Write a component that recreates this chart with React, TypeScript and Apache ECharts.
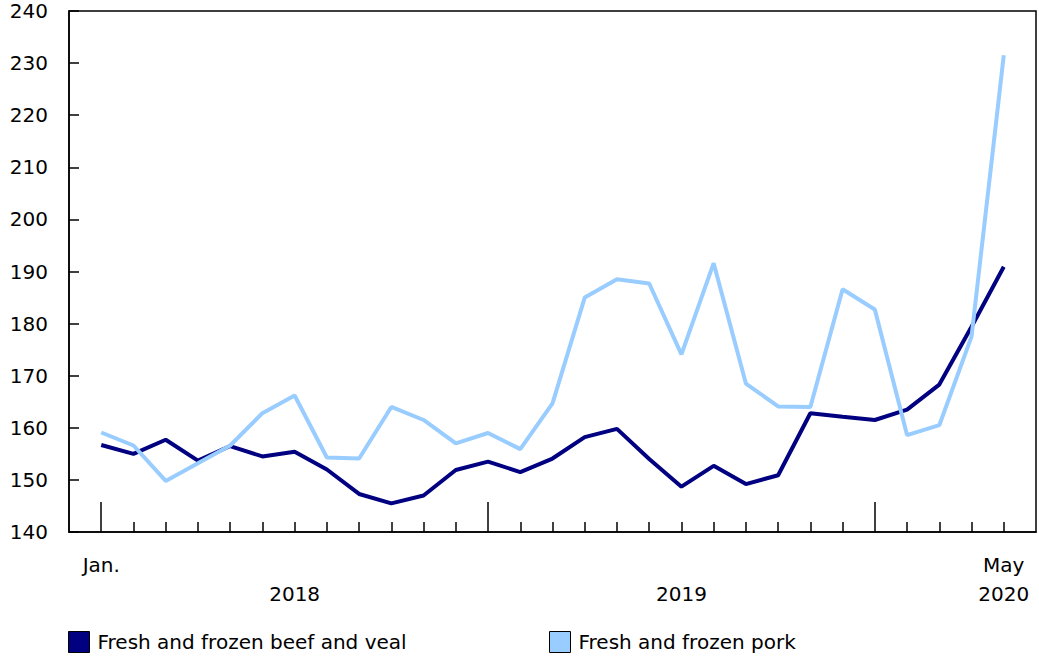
import React, { useEffect, useRef } from "react";
import * as echarts from "echarts";

// Monthly periods, January 2018 to May 2020
const months: string[] = [
  "2018-01", "2018-02", "2018-03", "2018-04", "2018-05", "2018-06", "2018-07", "2018-08", "2018-09", "2018-10", "2018-11", "2018-12",
  "2019-01", "2019-02", "2019-03", "2019-04", "2019-05", "2019-06", "2019-07", "2019-08", "2019-09", "2019-10", "2019-11", "2019-12",
  "2020-01", "2020-02", "2020-03", "2020-04", "2020-05",
];

const beefName = "Fresh and frozen beef and veal";
const porkName = "Fresh and frozen pork";

const beefValues: number[] = [
  156.7, 155.0, 157.7, 153.7, 156.5, 154.5, 155.4, 152.0, 147.3, 145.5, 147.0, 151.9,
  153.5, 151.5, 154.1, 158.2, 159.8, 154.0, 148.7, 152.7, 149.2, 150.9, 162.8, 162.1,
  161.5, 163.5, 168.3, 179.4, 190.9,
];

const porkValues: number[] = [
  159.1, 156.6, 149.8, 153.2, 156.6, 162.8, 166.2, 154.3, 154.1, 164.0, 161.5, 157.0,
  159.0, 155.9, 164.7, 185.0, 188.5, 187.7, 174.1, 191.6, 168.5, 164.1, 164.0, 186.6,
  182.7, 158.6, 160.5, 177.5, 231.5,
];

// Tick labels under the x axis (by month index)
const monthLabelIdx: number[] = [0, 28];
const monthLabelText: string[] = ["Jan.", "May"];
const yearLabelIdx: number[] = [6, 18, 28];
const yearLabelText: string[] = ["2018", "2019", "2020"];

const yMin = 140;
const yMax = 240;
const yStep = 10;

const FONT = "DejaVu Sans";

export default function App() {
  const ref = useRef<HTMLDivElement>(null);

  useEffect(() => {
    if (!ref.current) return;
    const chart = echarts.init(ref.current, null, { renderer: "svg" });

    // pad one empty slot on each side so points sit one step in from the frame
    const cats = ["", ...months, ""];
    const pad = (arr: number[]) => ["-", ...arr, "-"];
    const isMonth = (i: number) => i >= 1 && i <= months.length;
    const isJan = (i: number) => isMonth(i) && months[i - 1].endsWith("-01");

    const legendBase = {
      top: 626,
      icon: "rect",
      itemWidth: 21,
      itemHeight: 21,
      itemStyle: { borderColor: "#000", borderWidth: 1 },
      textStyle: { fontSize: 20, color: "#000", fontFamily: FONT, padding: [0, 0, 0, 3] },
      selectedMode: false,
    };

    const option: any = {
      animation: false,
      backgroundColor: "#fff",
      textStyle: { fontFamily: FONT },
      grid: {
        left: 69,
        right: 1,
        top: 11,
        bottom: 125,
        show: true,
        borderColor: "#000",
        borderWidth: 1.5,
        backgroundColor: "transparent",
      },
      legend: [
        { ...legendBase, data: [beefName], left: 63 },
        { ...legendBase, data: [porkName], left: 544 },
      ],
      xAxis: [
        {
          type: "category",
          data: cats,
          boundaryGap: false,
          axisLine: { show: true, lineStyle: { color: "#000", width: 1.5 } },
          axisTick: {
            show: true,
            inside: true,
            length: 10,
            interval: (i: number) => isMonth(i) && !isJan(i),
            lineStyle: { color: "#000", width: 1.5 },
          },
          axisLabel: {
            show: true,
            interval: 0,
            margin: 18,
            color: "#000",
            fontSize: 20,
            fontFamily: FONT,
            lineHeight: 29,
            formatter: (_v: string, i: number) => {
              const k = i - 1;
              const a = monthLabelIdx.indexOf(k);
              const b = yearLabelIdx.indexOf(k);
              if (a < 0 && b < 0) return "";
              const r1 = a >= 0 ? monthLabelText[a] : " ";
              const r2 = b >= 0 ? yearLabelText[b] : " ";
              return r1 + "\n" + r2;
            },
          },
          splitLine: { show: false },
        },
        {
          type: "category",
          data: cats,
          boundaryGap: false,
          position: "bottom",
          axisLine: { show: false },
          axisTick: {
            show: true,
            inside: true,
            length: 30,
            interval: (i: number) => isJan(i),
            lineStyle: { color: "#000", width: 1.5 },
          },
          axisLabel: { show: false },
          splitLine: { show: false },
        },
      ],
      yAxis: {
        type: "value",
        min: yMin,
        max: yMax,
        interval: yStep,
        axisLine: { show: true, lineStyle: { color: "#000", width: 1.5 } },
        axisTick: { show: true, inside: true, length: 10, lineStyle: { color: "#000", width: 1.5 } },
        axisLabel: { color: "#000", fontSize: 20, fontFamily: FONT, margin: 21 },
        splitLine: { show: false },
      },
      series: [
        {
          name: beefName,
          type: "line",
          data: pad(beefValues),
          showSymbol: false,
          symbol: "none",
          color: "#000080",
          lineStyle: { color: "#000080", width: 4 },
          silent: true,
          z: 3,
        },
        {
          name: porkName,
          type: "line",
          data: pad(porkValues),
          showSymbol: false,
          symbol: "none",
          color: "#99CCFF",
          lineStyle: { color: "#99CCFF", width: 4 },
          silent: true,
          z: 4,
        },
      ],
    };

    chart.setOption(option);
    return () => chart.dispose();
  }, []);

  return (
    <div
      ref={ref}
      style={{ position: "fixed", left: 0, top: 0, width: 1039, height: 657, background: "#fff" }}
    />
  );
}
